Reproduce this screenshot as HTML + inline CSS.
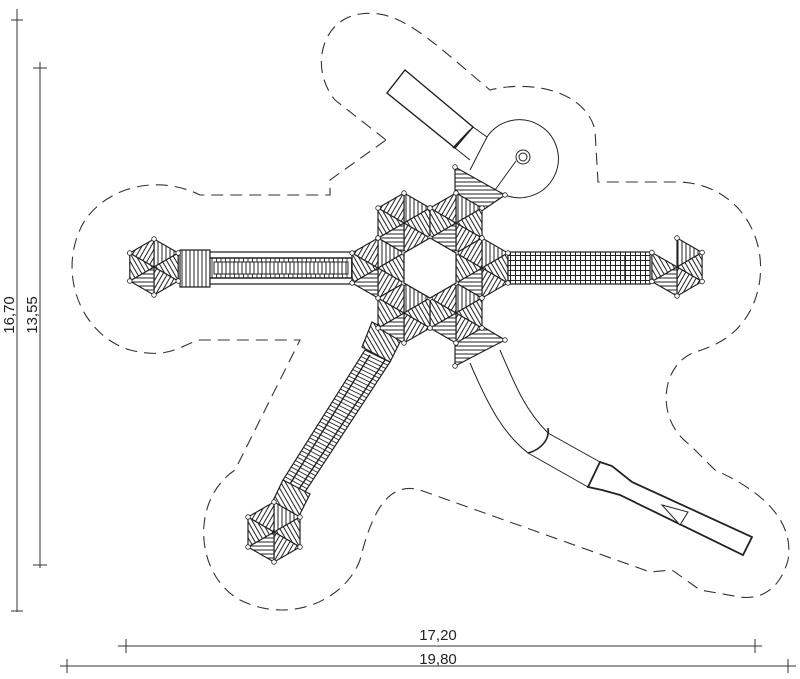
<!DOCTYPE html>
<html><head><meta charset="utf-8"><style>
html,body{margin:0;padding:0;background:#fff;}
svg{display:block;}
text{font-family:"Liberation Sans",sans-serif;font-size:15px;fill:#222;}
</style></head><body>
<svg id="s" width="800" height="679" viewBox="0 0 800 679" xmlns="http://www.w3.org/2000/svg">
<defs>
<pattern id="h0" patternUnits="userSpaceOnUse" width="4" height="4"><rect width="4" height="4" fill="#fff"/><line x1="0" y1="2" x2="4" y2="2" stroke="#222" stroke-width="1"/></pattern>
<pattern id="h60" patternUnits="userSpaceOnUse" width="4" height="4" patternTransform="rotate(60)"><rect width="4" height="4" fill="#fff"/><line x1="0" y1="2" x2="4" y2="2" stroke="#222" stroke-width="1"/></pattern>
<pattern id="h120" patternUnits="userSpaceOnUse" width="4" height="4" patternTransform="rotate(120)"><rect width="4" height="4" fill="#fff"/><line x1="0" y1="2" x2="4" y2="2" stroke="#222" stroke-width="1"/></pattern>
<pattern id="h90" patternUnits="userSpaceOnUse" width="4" height="4" patternTransform="rotate(90)"><rect width="4" height="4" fill="#fff"/><line x1="0" y1="2" x2="4" y2="2" stroke="#222" stroke-width="1"/></pattern>
<pattern id="grid" patternUnits="userSpaceOnUse" width="5" height="5"><rect width="5" height="5" fill="#fff"/><path d="M0 0.5H5M0.5 0V5" stroke="#222" stroke-width="1"/></pattern>
</defs>
<g stroke="#333" stroke-width="1" fill="none">
<line x1="17" y1="9" x2="17" y2="612"/><line x1="11" y1="20" x2="23" y2="20"/><line x1="11" y1="611" x2="23" y2="611"/>
<line x1="40" y1="62" x2="40" y2="568"/><line x1="33" y1="68" x2="47" y2="68"/><line x1="33" y1="565" x2="47" y2="565"/>
<line x1="118" y1="646" x2="762" y2="646"/><line x1="126" y1="639" x2="126" y2="653"/><line x1="755" y1="639" x2="755" y2="653"/>
<line x1="60" y1="666" x2="796" y2="666"/><line x1="67" y1="659" x2="67" y2="673"/><line x1="788" y1="659" x2="788" y2="673"/>
</g>
<text x="438" y="640" text-anchor="middle">17,20</text>
<text x="438" y="664" text-anchor="middle">19,80</text>
<text transform="translate(14,315) rotate(-90)" text-anchor="middle">16,70</text>
<text transform="translate(37,315) rotate(-90)" text-anchor="middle">13,55</text>
<path fill="none" stroke="#333" stroke-width="1.1" stroke-dasharray="12,7" d="M386 140 L335 100 C310 70 320 20 360 14 C400 8 430 40 490 90 C530 80 585 90 595 130 L598 182 L680 182 C740 185 770 240 758 290 C748 330 720 345 695 352 C660 365 655 420 690 445 L715 470 C760 490 795 520 788 560 C780 590 760 600 740 597 L700 590 L672 570 L650 572 L420 490 C385 480 370 520 360 560 C345 600 290 625 240 600 C195 575 190 500 235 470 L300 340 L200 340 C180 345 170 360 130 350 C80 335 55 270 85 220 C110 185 160 175 200 195 L330 195 L330 180 Z"/>
<g id="g" stroke="#222" stroke-width="1.2"></g>
</svg>
<script>
var g=document.getElementById('g'),NS='http://www.w3.org/2000/svg';
function el(t,a){var e=document.createElementNS(NS,t);for(var k in a)e.setAttribute(k,a[k]);g.appendChild(e);return e;}
function pts(a){return a.map(function(p){return p[0].toFixed(1)+','+p[1].toFixed(1)}).join(' ');}
var pats=['h0','h60','h120','h90'];
function hex(cx,cy,r,skip,rot,circ){
 rot=rot||0;var v=[];
 for(var k=0;k<6;k++){var a=(-90+60*k+rot)*Math.PI/180;v.push([cx+r*Math.cos(a),cy+r*Math.sin(a)]);}
 for(var k=0;k<6;k++){if(skip&&skip.indexOf(k)>=0)continue;
  var p=pats[(k)%3];if(k==0)p='h90';
  el('polygon',{points:pts([[cx,cy],v[k],v[(k+1)%6]]),fill:'url(#'+p+')'});}
 if(circ!==false)v.forEach(function(q){el('circle',{cx:q[0],cy:q[1],r:2.3,fill:'#fff','stroke-width':0.8});});
 return v;}
function poly(a,f,w){return el('polygon',{points:pts(a),fill:f||'none','stroke-width':w||1.2});}
function line(x1,y1,x2,y2,w){return el('line',{x1:x1,y1:y1,x2:x2,y2:y2,'stroke-width':w||1});}
// top slide
el('path',{d:'M487 137 A39 39 0 1 1 505 195',fill:'#fff','stroke-width':1});
poly([[405,70],[473,127],[455,148],[387,93]],'#fff',1.4);
line(470,130,453,148,1.6);
el('path',{d:'M473 127 L487 137 L470 170 M455 148 L470 160',fill:'none','stroke-width':1});
el('circle',{cx:523,cy:157,r:7,fill:'#fff','stroke-width':1});el('circle',{cx:523,cy:157,r:4,fill:'#fff','stroke-width':1});
line(516,161,495,190);
// bottom slide tube
el('path',{d:'M470 363 C490 410 505 435 528 453 L588 487 M500 350 C515 385 525 410 548 433 L600 462',fill:'none','stroke-width':1});
el('path',{d:'M548 428 C550 440 540 450 528 453',fill:'none','stroke-width':1.6});
poly([[600,462],[612,466],[632,482],[752,537],[743,555],[620,495],[602,490],[588,487]],'#fff',1.8);
poly([[662,505],[688,512],[680,525]],'#fff',1);
// left bridge
poly([[180,250],[210,250],[210,287],[180,287]],'url(#h90)');
poly([[210,252],[352,252],[352,284],[210,284]],'#fff');
for(var x=212;x<352;x+=4.5)line(x,258,x,278,0.9);
line(210,258,352,258,1.4);line(210,278,352,278,1.4);
poly([[214,262],[348,262],[348,274],[214,274]],'url(#h90)',1);
// right bridge
poly([[508,252],[650,252],[650,284],[508,284]],'url(#grid)',1.2);
line(625,256,625,280,1.4);
// lower-left ramp
poly([[372,322],[402,338],[390,362],[362,347]],'url(#h60)');
poly([[365,350],[390,362],[305,492],[283,480]],'#fff');
for(var t=0;t<=1;t+=0.025){var x1=365+(283-365)*t,y1=350+(480-350)*t,x2=390+(305-390)*t,y2=362+(492-362)*t;line(x1,y1,x2,y2,0.9);}
line(370,355,290,484,1.4);line(385,360,299,489,1.4);
poly([[283,480],[310,494],[297,520],[270,507]],'url(#h60)');
// central cluster
var C=[430,268],R=30,D=R*Math.sqrt(3);
poly([[455,167],[505,195],[480,212],[455,197]],'url(#h0)');
poly([[455,329],[480,325],[505,340],[455,366]],'url(#h0)');
[[455,167],[505,195],[505,340],[455,366]].forEach(function(q){el('circle',{cx:q[0],cy:q[1],r:2.3,fill:'#fff','stroke-width':0.8});});
for(var k=0;k<6;k++){var an=(60*k)*Math.PI/180;hex(C[0]+D*Math.cos(an),C[1]+D*Math.sin(an),R,null,0);}
poly([[430,238],[456,253],[456,283],[430,298],[404,283],[404,253]],'#fff',1.2);
line(404,283,430,298,0.8);
hex(154,267,28,null,0);
hex(677,267,29,[5],0);
hex(274,532,30,null,0);
</script>
</body></html>
